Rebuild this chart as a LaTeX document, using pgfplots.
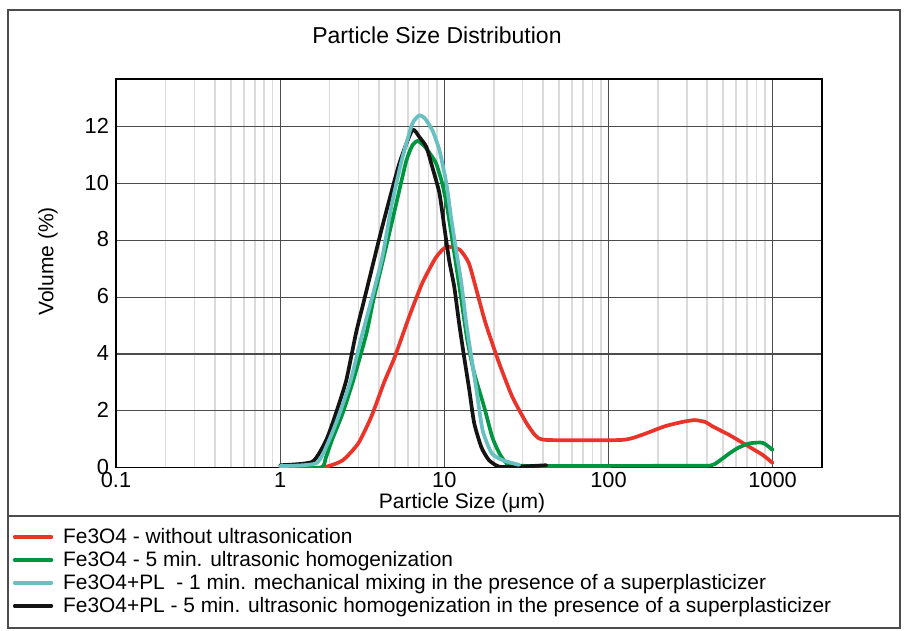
\documentclass[border=0pt]{standalone}
\usepackage{pgfplots}
\pgfplotsset{compat=1.18}
\usepackage{fontspec}
\setmainfont{Liberation Sans}
\definecolor{cred}{RGB}{234,52,42}
\definecolor{cgreen}{RGB}{0,150,64}
\definecolor{ccyan}{RGB}{104,192,194}
\definecolor{cblack}{RGB}{20,20,20}
\begin{document}
\begin{tikzpicture}
\path[use as bounding box] (-58pt,-81.75pt) rectangle (395pt,233.75pt);
\draw[line width=0.9pt, color=black!70] (-54pt,-80.25pt) rectangle (392pt,228.75pt);
\draw[line width=0.9pt, color=black!70] (-54pt,-24.25pt) -- (392pt,-24.25pt);
\begin{axis}[at={(0pt,0pt)}, anchor=south west, scale only axis,
  width=353pt, height=194.25pt,
  xmode=log, xmin=0.1, xmax=2000, ymin=0, ymax=13.68,
  xtick={0.1,1,10,100,1000}, xticklabels={0.1,1,10,100,1000},
  ytick={0,2,4,6,8,10,12},
  minor xtick={0.2,0.3,0.4,0.5,0.6,0.7,0.8,0.9,2,3,4,5,6,7,8,9,20,30,40,50,60,70,80,90,200,300,400,500,600,700,800,900},
  xmajorgrids, ymajorgrids, xminorgrids,
  major grid style={black!70, line width=0.6pt},
  minor grid style={black!14, line width=0.8pt},
  major tick length=0pt, minor tick length=0pt,
  axis line style={black, line width=0.8pt},
  tick label style={font=\fontsize{10.9}{12}\selectfont},
  xticklabel style={yshift=1pt},
  yticklabel style={yshift=0.5pt},
  /pgf/number format/assume math mode=true,
  legend style={draw=none, fill=none, inner sep=0pt, outer sep=0pt,
    at={(-0.1459,-0.1493)}, anchor=north west,
    font=\fontsize{10.45}{12}\selectfont, column sep=5pt, row sep=0pt,
    nodes={inner sep=0pt, minimum height=11.5pt}},
  legend cell align=left,
  legend image code/.code={\draw[#1, line width=1.6pt] (0pt,0pt) -- (18.5pt,0pt);},
  every axis plot/.append style={line width=1.85pt, line join=round, line cap=round},
]
\addlegendimage{cred}
\addlegendentry{Fe3O4 - without ultrasonication}
\addlegendimage{cgreen}
\addlegendentry{Fe3O4 - 5 min. ultrasonic homogenization}
\addlegendimage{ccyan}
\addlegendentry{Fe3O4+PL\ \ - 1 min. mechanical mixing in the presence of a superplasticizer}
\addlegendimage{cblack}
\addlegendentry{Fe3O4+PL - 5 min. ultrasonic homogenization in the presence of a superplasticizer}

\addplot[cred, smooth, tension=0.35, forget plot] coordinates {
(1,0) (1.8,0) (2.4,0.25) (3.0,0.86) (3.6,1.8) (4.3,3.0) (5.0,3.9) (6.1,5.3)
(7.35,6.5) (8.9,7.4) (10.3,7.77) (12.4,7.67) (14.1,7.2) (15.7,6.25) (17.8,5.1)
(21.5,3.7) (25.9,2.5) (31.4,1.6) (36,1.12) (42,0.97) (120,0.97) (160,1.15)
(220,1.45) (280,1.6) (335,1.67) (390,1.6) (430,1.45) (547,1.14) (692,0.79)
(871,0.44) (1000,0.16)};

\addplot[cgreen, smooth, tension=0.35, forget plot] coordinates {
(1.13,0) (1.78,0) (1.9,0.35) (2.07,0.97) (2.4,1.9) (2.8,3.1) (3.35,4.7) (3.7,5.9)
(4.19,7.2) (5.1,9.3) (5.87,10.8) (6.4,11.35) (6.9,11.5) (7.6,11.3) (8.3,11.0)
(8.93,10.7) (9.72,10.0) (10.4,9.17) (11.2,8.0) (12.0,6.85) (12.7,5.9) (13.8,4.5)
(15.2,3.33) (17.5,2.13) (19.6,1.07) (21.6,0.51) (23.9,0.16) (28.6,0.06)
(300,0.06) (420,0.07) (460,0.18) (547,0.5) (620,0.7) (725,0.85) (871,0.87) (1000,0.62)};

\addplot[cblack, smooth, tension=0.35, forget plot] coordinates {
(1,0.08) (1.57,0.2) (1.91,0.97) (2.19,1.92) (2.53,3.08) (2.9,4.74) (3.25,5.9)
(4.19,8.48) (5.32,10.7) (6.38,11.88) (7.04,11.64) (7.77,11.29) (8.45,10.58)
(9.33,9.67) (10,8.47) (10.7,7.3) (11.5,6.36) (12.3,5.09) (13.2,3.9) (14.2,2.73)
(15.2,1.57) (16.8,0.72) (18.7,0.26) (21.6,0.03) (28.6,0.03) (41.9,0.08)};

\addplot[ccyan, smooth, tension=0.35, forget plot] coordinates {
(1,0.05) (1.66,0.15) (1.99,0.97) (2.3,1.9) (2.7,3.1) (3.1,4.5) (3.6,5.9)
(4.19,7.4) (4.8,9.3) (5.55,10.9) (6.38,12.1) (7.04,12.4) (7.6,12.3) (8.45,11.88)
(9.33,11.18) (10.3,10.0) (11.0,8.8) (11.8,7.65) (12.7,6.5) (13.6,5.09) (14.6,3.9)
(15.7,2.73) (17.1,1.32) (19.4,0.51) (22.6,0.26) (28.6,0.09)};
\end{axis}
\node[font=\fontsize{11.5}{14}\selectfont] at (160.5pt,216.25pt) {Particle Size Distribution};
\node[font=\fontsize{10.5}{12}\selectfont] at (173pt,-17.75pt) {Particle Size (μm)};
\node[rotate=90, font=\fontsize{10.5}{12}\selectfont] at (-34pt,103pt) {Volume (\%)};
\end{tikzpicture}
\end{document}
